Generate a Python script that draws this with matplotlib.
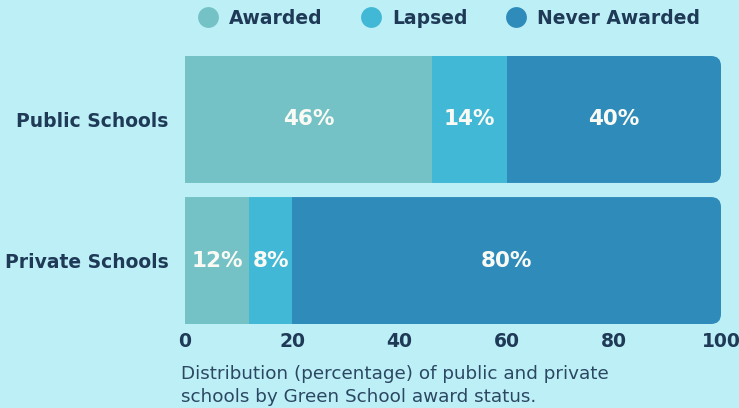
import matplotlib.pyplot as plt
from matplotlib.patches import FancyBboxPatch
from matplotlib.lines import Line2D

# data
schools = ['Public Schools', 'Private Schools']
statuses = ['Awarded', 'Lapsed', 'Never Awarded']
awarded = [46, 12]
lapsed = [14, 8]
never = [40, 80]
xticks = [0, 20, 40, 60, 80, 100]
caption = 'Distribution (percentage) of public and private\nschools by Green School award status.'

colors = ['#74c2c5', '#41b8d5', '#2e8bba']
bg = '#bdeff6'
navy = '#1e3a56'

plt.rcParams['font.family'] = ['DejaVu Sans']

fig = plt.figure(figsize=(7.39, 4.08), dpi=100, facecolor=bg)
ax = fig.add_axes([185 / 739, 1 - 324 / 408, 536 / 739, 268 / 408])
ax.set_facecolor(bg)

y = list(range(len(schools)))
h = 0.9
series = [awarded, lapsed, never]
left = [0] * len(schools)
bars = []
for vals, c in zip(series, colors):
    b = ax.barh(y, vals, left=left, height=h, color=c, linewidth=0)
    bars.append(b)
    for yi, v, l in zip(y, vals, left):
        ax.text(l + v / 2, yi, f'{v}%', ha='center', va='center',
                color='#fafaf5', fontsize=15.5, fontweight='bold')
    left = [l + v for l, v in zip(left, vals)]

ax.set_xlim(0, 100)
ax.set_ylim(1 + h / 2, -h / 2)

# rounded right end of each row
xunit = 536 / 100
yunit = 268 / (1 + h)
r = 10 / xunit
for yi in y:
    clip = FancyBboxPatch((-20, yi - h / 2), 120, h,
                          boxstyle=f'round,pad=0,rounding_size={r}',
                          mutation_aspect=xunit / yunit,
                          transform=ax.transData, facecolor='none', edgecolor='none')
    ax.add_patch(clip)
    for b in bars:
        b.patches[yi].set_clip_path(clip)

for s in ax.spines.values():
    s.set_visible(False)
ax.set_yticks(y)
ax.set_yticklabels(schools, fontsize=13.5, fontweight='bold', color=navy)
ax.set_xticks(xticks)
ax.set_xticklabels([str(t) for t in xticks], fontsize=13.5, fontweight='bold', color=navy)
ax.tick_params(axis='y', length=0, pad=12)
ax.tick_params(axis='x', length=0, pad=6)

handles = [Line2D([], [], marker='o', linestyle='', markersize=15, color=c,
                  markeredgewidth=0) for c in colors]
fig.legend(handles, statuses, loc='center', bbox_to_anchor=(449 / 739, 1 - 18 / 408),
           ncol=3, frameon=False, handletextpad=0.55, columnspacing=2.05,
           handlelength=1.1, prop={'weight': 'bold', 'size': 13.5}, labelcolor=navy)

fig.text(181 / 739, 1 - 365 / 408, caption, ha='left', va='top',
         fontsize=13.25, color='#2b4862', linespacing=1.35)

fig.savefig('out.png', dpi=100, facecolor=bg)
